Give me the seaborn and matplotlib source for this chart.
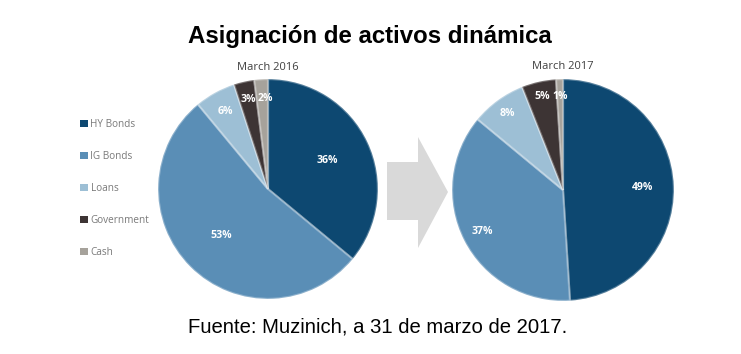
import matplotlib
matplotlib.use("Agg")
import matplotlib.pyplot as plt
import matplotlib.patches as mpatches
import numpy as np
import seaborn as sns

# data
categories = ["HY Bonds", "IG Bonds", "Loans", "Government", "Cash"]
alloc_2016 = [36, 53, 6, 3, 2]
alloc_2017 = [49, 37, 8, 5, 1]
period_labels = ["March 2016", "March 2017"]
title = "Asignación de activos dinámica"
source = "Fuente: Muzinich, a 31 de marzo de 2017."

colors = ["#0d4871", "#5a8eb6", "#9dbfd5", "#3d3434", "#a6a29b"]

sns.set_theme(style="white")
plt.rcParams["font.family"] = ["Open Sans", "DejaVu Sans"]

W, H = 741, 354
fig = plt.figure(figsize=(W / 100, H / 100), dpi=100)
fig.patch.set_facecolor("white")


def px_axes(cx, cy, r):
    # square axes around a pie centre given in pixels (y from top)
    return fig.add_axes([(cx - r) / W, (H - cy - r) / H, 2 * r / W, 2 * r / H])


def draw_pie(ax, values, subtitle, label_r, nudge):
    ax.pie(values, colors=colors, startangle=90, counterclock=False, radius=1.0,
           wedgeprops=dict(linewidth=1.6, edgecolor=(1, 1, 1, 0.3)))
    total = sum(values)
    start = 90.0
    for v, lr, dn in zip(values, label_r, nudge):
        span = 360.0 * v / total
        mid = np.deg2rad(start - span / 2 + dn)
        ax.text(lr * np.cos(mid), lr * np.sin(mid), f"{v}%", ha="center", va="center",
                color="white", fontsize=7.6, fontweight="bold")
        start -= span
    ax.set_xlim(-1.01, 1.01)
    ax.set_ylim(-1.01, 1.01)
    ax.set_aspect("equal")
    ax.axis("off")
    ax.text(0, 1.11, subtitle, ha="center", va="center", fontsize=8, color="#404040")


ax1 = px_axes(268, 189, 111)
draw_pie(ax1, alloc_2016, period_labels[0], [0.6, 0.6, 0.8, 0.83, 0.82], [0, 0, 0, 0, -1.8])
ax2 = px_axes(563, 190, 112)
draw_pie(ax2, alloc_2017, period_labels[1], [0.72, 0.82, 0.85, 0.86, 0.84], [0, 0, 0, 0, 0])

# big grey arrow between pies
bg = fig.add_axes([0, 0, 1, 1], zorder=-1)
bg.set_xlim(0, W)
bg.set_ylim(H, 0)
bg.axis("off")
arrow = mpatches.Polygon([(387, 162), (418, 162), (418, 137), (448, 192),
                          (418, 248), (418, 220), (387, 220)],
                         closed=True, facecolor="#d9d9d9", edgecolor="none")
bg.add_patch(arrow)

# legend
handles = [mpatches.Patch(facecolor=c, edgecolor="none") for c in colors]
fig.legend(handles, categories, loc="upper left", bbox_to_anchor=(75 / W, 1 - 114 / H),
           frameon=False, fontsize=7.2, labelcolor="#7a7a7a",
           handlelength=0.75, handleheight=0.75, handletextpad=0.3,
           labelspacing=2.1, borderpad=0)

fig.text(370 / W, 1 - 37 / H, title, ha="center", va="center", fontsize=17.3,
         fontweight="bold", family=["Liberation Sans", "DejaVu Sans"], color="black")
fig.text(378 / W, 1 - 327 / H, source, ha="center", va="center", fontsize=14.6,
         family=["Liberation Sans", "DejaVu Sans"], color="black")

fig.savefig("out.png", dpi=100, facecolor="white")
